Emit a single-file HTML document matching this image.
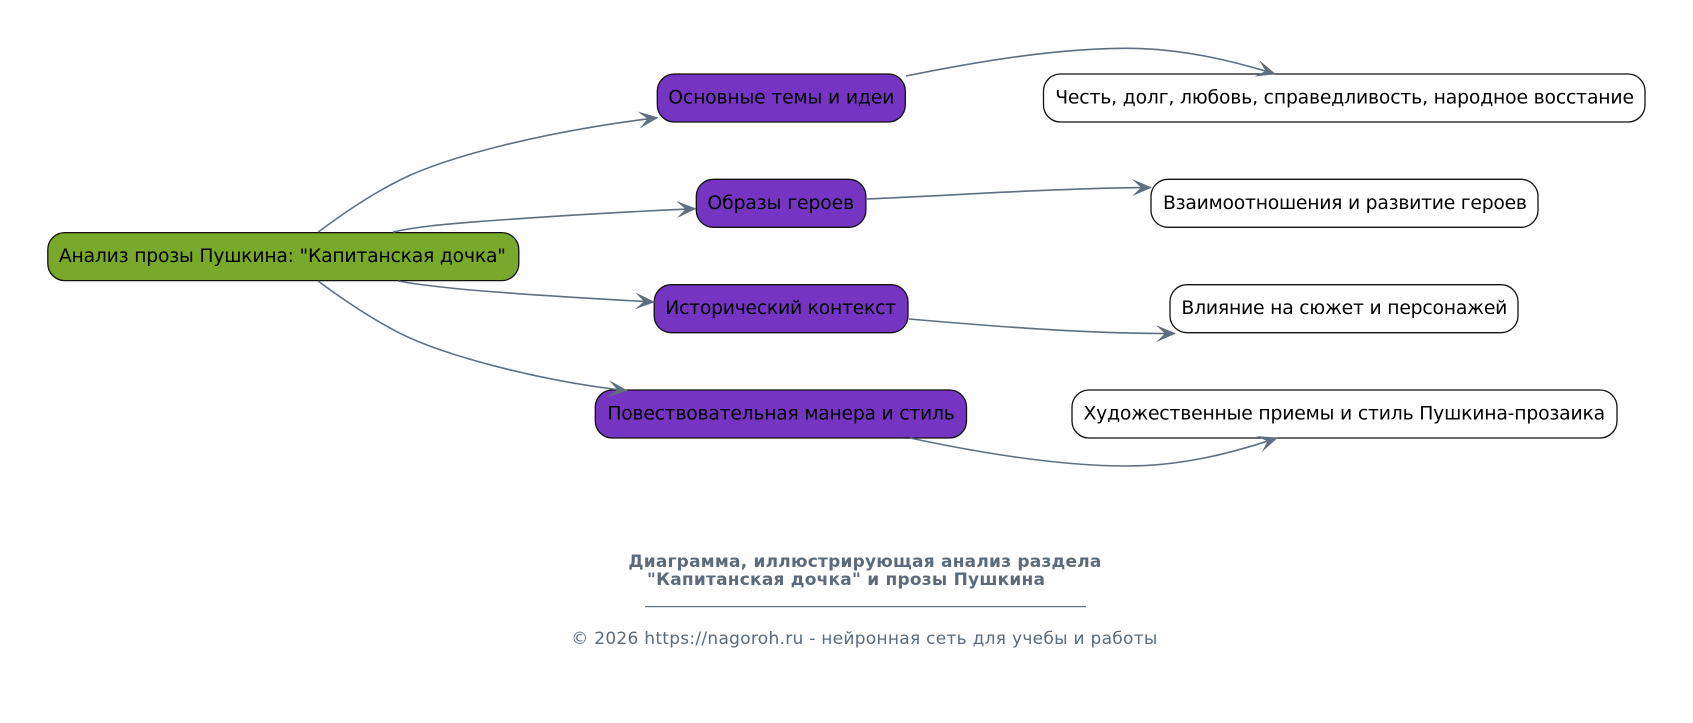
<!DOCTYPE html>
<html lang="ru">
<head>
<meta charset="utf-8">
<title>Диаграмма</title>
<style>
html,body{margin:0;padding:0;background:#fefefe;width:1693px;height:723px;overflow:hidden}
svg{display:block}
.n{font-family:"DejaVu Sans","Liberation Sans",sans-serif;font-size:18.8px;fill:#000}
.t{font-family:"DejaVu Sans","Liberation Sans",sans-serif;font-size:17px;font-weight:bold;fill:#5b6b7c}
.f{font-family:"DejaVu Sans","Liberation Sans",sans-serif;font-size:17px;fill:#5b6b7c}
.e{fill:none;stroke:#5f6f80;stroke-width:1.6}
.b{stroke:#111;stroke-width:1.3}
</style>
</head>
<body>
<svg width="1693" height="723" viewBox="0 0 1693 723" xmlns="http://www.w3.org/2000/svg">
<defs>
<marker id="a" markerUnits="userSpaceOnUse" markerWidth="24" markerHeight="22" refX="20" refY="10" orient="auto" overflow="visible">
<path d="M21 10 L1 1.5 L10 10 L1 18.5 Z" fill="#5f6f80"/>
</marker>
</defs>
<rect x="47.8" y="232.6" width="471" height="48" rx="17" fill="#79a92a" class="b"/>
<rect x="657.3" y="74" width="248" height="48" rx="17" fill="#7535c2" class="b"/>
<rect x="696.3" y="179.3" width="169.6" height="48" rx="17" fill="#7535c2" class="b"/>
<rect x="654.2" y="284.7" width="253.8" height="48" rx="17" fill="#7535c2" class="b"/>
<rect x="595.3" y="390" width="371.2" height="48" rx="17" fill="#7535c2" class="b"/>
<rect x="1043.5" y="74" width="601.5" height="48" rx="17" fill="#fff" class="b"/>
<rect x="1151" y="179.3" width="387" height="48" rx="17" fill="#fff" class="b"/>
<rect x="1170" y="284.7" width="348" height="48" rx="17" fill="#fff" class="b"/>
<rect x="1072" y="390" width="545" height="48" rx="17" fill="#fff" class="b"/>

<path class="e" marker-end="url(#a)" d="M318.3 232 C345 212 372 194 400 180 C445 157.5 540 132 657.5 117.7"/>
<path class="e" marker-end="url(#a)" d="M393 232 C420 226 450 224 477 221.7 C540 217 620 212 695.5 208.7"/>
<path class="e" marker-end="url(#a)" d="M398 281 C420 285 440 287 460 289 C520 294.5 590 298.5 654 302"/>
<path class="e" marker-end="url(#a)" d="M318 281 C345 301 372 319 400 333.3 C445 355.8 540 381 627 390.7"/>
<path class="e" marker-end="url(#a)" d="M906 76 C985 60 1060 48.3 1127 48.3 C1180 48.3 1230 60 1275 74"/>
<path class="e" marker-end="url(#a)" d="M867 199 C960 195 1060 188 1151 187.5"/>
<path class="e" marker-end="url(#a)" d="M909 319 C990 326 1090 334 1175 333.5"/>
<path class="e" marker-end="url(#a)" d="M910 438 C985 454 1060 466 1127 466 C1180 466 1230 454 1277 438"/>

<text class="n" x="58.9" y="262" textLength="447" lengthAdjust="spacing">Анализ прозы Пушкина: "Капитанская дочка"</text>
<text class="n" x="668.3" y="103.3" textLength="226" lengthAdjust="spacing">Основные темы и идеи</text>
<text class="n" x="707.4" y="208.8" textLength="146.8" lengthAdjust="spacing">Образы героев</text>
<text class="n" x="665.3" y="314" textLength="230.8" lengthAdjust="spacing">Исторический контекст</text>
<text class="n" x="607.4" y="419.3" textLength="347.4" lengthAdjust="spacing">Повествовательная манера и стиль</text>
<text class="n" x="1055.2" y="103.3" textLength="578.8" lengthAdjust="spacing">Честь, долг, любовь, справедливость, народное восстание</text>
<text class="n" x="1163" y="208.8" textLength="364" lengthAdjust="spacing">Взаимоотношения и развитие героев</text>
<text class="n" x="1181.4" y="314" textLength="326" lengthAdjust="spacing">Влияние на сюжет и персонажей</text>
<text class="n" x="1083.5" y="419.3" textLength="521.7" lengthAdjust="spacing">Художественные приемы и стиль Пушкина-прозаика</text>

<text class="t" x="628.4" y="567" textLength="473" lengthAdjust="spacing">Диаграмма, иллюстрирующая анализ раздела</text>
<text class="t" x="647" y="585" textLength="398" lengthAdjust="spacing">"Капитанская дочка" и прозы Пушкина</text>
<rect x="645" y="606" width="441" height="1.2" fill="#5f6e7e"/>
<text class="f" x="571.3" y="644" textLength="586" lengthAdjust="spacing">© 2026 https://nagoroh.ru - нейронная сеть для учебы и работы</text>
</svg>
</body>
</html>
